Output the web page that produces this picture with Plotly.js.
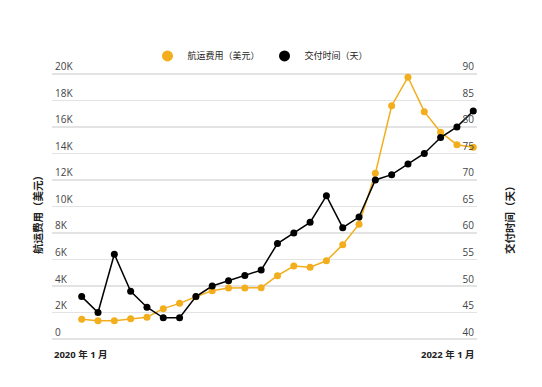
<!DOCTYPE html>
<html>
<head>
<meta charset="utf-8">
<script src="https://cdn.plot.ly/plotly-3.0.1.min.js"></script>
<style>html,body{margin:0;padding:0;background:#fff;}#chart{width:542px;height:387px;}</style>
</head>
<body>
<div id="chart"></div>
<script>
const months = Array.from({length: 25}, (_, i) => i); // Jan 2020 .. Jan 2022, monthly index
const shippingCost = [1490, 1380, 1380, 1530, 1640, 2290, 2690, 3190, 3650, 3850, 3850, 3870, 4780, 5510, 5410, 5900, 7120, 8660, 12500, 17600, 19750, 17150, 15600, 14660, 14470];
const deliveryDays = [48, 45, 56, 49, 46, 44, 44, 48, 50, 51, 52, 53, 58, 60, 62, 67, 61, 63, 70, 71, 73, 75, 78, 80, 83];
const seriesNames = ['航运费用（美元）', '交付时间（天）'];
const startLabel = '2020 年 1 月';
const endLabel = '2022 年 1 月';
const leftTicks = [0, 2000, 4000, 6000, 8000, 10000, 12000, 14000, 16000, 18000, 20000];
const leftTickText = ['0', '2K', '4K', '6K', '8K', '10K', '12K', '14K', '16K', '18K', '20K'];
const rightTicks = [40, 45, 50, 55, 60, 65, 70, 75, 80, 85, 90];

const ORANGE = '#F2AE1C';
const BLACK = '#000000';
const FONT = 'Open Sans, Noto Sans CJK SC, sans-serif';

const traces = [
  {x: months, y: shippingCost, type: 'scatter', mode: 'lines+markers', yaxis: 'y',
   line: {color: ORANGE, width: 1.5}, marker: {color: ORANGE, size: 7}, showlegend: false, name: seriesNames[0]},
  {x: months, y: deliveryDays, type: 'scatter', mode: 'lines+markers', yaxis: 'y2',
   line: {color: BLACK, width: 1.5}, marker: {color: BLACK, size: 7}, showlegend: false, name: seriesNames[1]},
  {x: [null], y: [null], type: 'scatter', mode: 'markers', marker: {color: ORANGE, size: 11}, name: seriesNames[0]},
  {x: [null], y: [null], type: 'scatter', mode: 'markers', marker: {color: BLACK, size: 11}, name: seriesNames[1]}
];

const layout = {
  width: 542, height: 387,
  margin: {l: 52, r: 65, t: 54.15, b: 44},
  paper_bgcolor: '#fff', plot_bgcolor: '#fff',
  font: {family: FONT, size: 10, color: '#333'},
  showlegend: true,
  legend: {orientation: 'h', x: 0.5, xanchor: 'center', y: 0.943, yanchor: 'bottom',
           font: {family: FONT, size: 9, color: '#222'}, itemwidth: 30,
           entrywidth: 72, entrywidthmode: 'pixels'},
  xaxis: {range: [-1.82, 24.23], showgrid: false, zeroline: false, showticklabels: false, showline: false, ticks: ''},
  yaxis: {range: [-300, 21500], tickvals: leftTicks, ticktext: leftTickText,
          ticklabelposition: 'inside top', showgrid: true, gridcolor: '#e3e3e3', gridwidth: 1.5,
          zeroline: false, showline: false, ticks: '', tickfont: {size: 10, color: '#444'}},
  yaxis2: {range: [39.25, 93.75], tickvals: rightTicks, overlaying: 'y', side: 'right',
           ticklabelposition: 'inside top', showgrid: false, zeroline: false, showline: false, ticks: '',
           tickfont: {size: 10, color: '#444'}},
  annotations: [
    {xref: 'paper', yref: 'paper', x: -0.033, y: 0.4535, xanchor: 'center', yanchor: 'middle', showarrow: false,
     textangle: -90, text: '<b>' + seriesNames[0] + '</b>', font: {size: 10.5, color: '#222'}},
    {xref: 'paper', yref: 'paper', x: 1.0776, y: 0.436, xanchor: 'center', yanchor: 'middle', showarrow: false,
     textangle: -90, text: '<b>' + seriesNames[1] + '</b>', font: {size: 10.5, color: '#222'}},
    {xref: 'paper', yref: 'paper', x: 0, y: -0.01, xanchor: 'left', yanchor: 'top', showarrow: false,
     text: '<b>' + startLabel + '</b>', font: {size: 9.5, color: '#222'}},
    {xref: 'paper', yref: 'paper', x: 1, y: -0.01, xanchor: 'right', yanchor: 'top', showarrow: false,
     text: '<b>' + endLabel + '</b>', font: {size: 9.5, color: '#222'}}
  ]
};

Plotly.newPlot('chart', traces, layout, {displayModeBar: false, staticPlot: true});
</script>
</body>
</html>
